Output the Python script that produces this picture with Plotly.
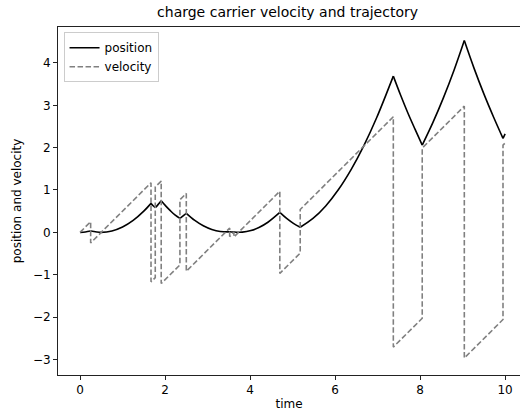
import plotly.graph_objects as go

# velocity: piecewise-linear vertices (time, value)
vel_t = [0, 0.25, 0.25, 1.67, 1.67, 1.77, 1.77, 1.91, 1.91, 2.35, 2.35, 2.50, 2.50,
         3.52, 3.52, 3.62, 3.62, 4.70, 4.70, 5.18, 5.18, 7.37, 7.37, 8.05, 8.05,
         9.04, 9.04, 9.95, 9.95, 10.0]
vel_v = [0, 0.25, -0.25, 1.17, -1.17, -1.07, 1.07, 1.21, -1.21, -0.77, 0.77, 0.92, -0.92,
         0.10, -0.10, 0.0, -0.11, 0.97, -0.97, -0.49, 0.54, 2.73, -2.71, -2.03, 1.99,
         2.98, -2.97, -2.06, 2.06, 2.11]

# position: smooth arcs between collisions (each arc listed separately)
pos_t = [
    [0, 0.125, 0.25],
    [0.25, 0.5, 0.75, 1.0, 1.25, 1.5, 1.67],
    [1.67, 1.72, 1.77],
    [1.77, 1.84, 1.91],
    [1.91, 2.02, 2.13, 2.24, 2.35],
    [2.35, 2.425, 2.50],
    [2.50, 2.7, 2.9, 3.1, 3.3, 3.52],
    [3.52, 3.57, 3.62],
    [3.62, 3.82, 4.02, 4.22, 4.42, 4.70],
    [4.70, 4.86, 5.02, 5.18],
    [5.18, 5.48, 5.78, 6.08, 6.38, 6.68, 6.98, 7.37],
    [7.37, 7.54, 7.71, 7.88, 8.05],
    [8.05, 8.30, 8.55, 8.80, 9.04],
    [9.04, 9.27, 9.50, 9.73, 9.95],
    [9.95, 9.975, 10.0],
]
pos_x = [
    [0, 0.008, 0.031],
    [0.031, 0.0, 0.031, 0.125, 0.281, 0.500, 0.684],
    [0.684, 0.627, 0.580],
    [0.580, 0.660, 0.745],
    [0.745, 0.618, 0.505, 0.405, 0.330],
    [0.330, 0.390, 0.450],
    [0.450, 0.282, 0.155, 0.068, 0.020, 0.012],
    [0.012, 0.008, 0.006],
    [0.006, 0.004, 0.042, 0.120, 0.238, 0.470],
    [0.470, 0.328, 0.211, 0.120],
    [0.120, 0.327, 0.624, 1.011, 1.488, 2.055, 2.712, 3.690],
    [3.690, 3.244, 2.826, 2.438, 2.060],
    [2.060, 2.590, 3.181, 3.835, 4.530],
    [4.530, 3.873, 3.270, 2.719, 2.220],
    [2.220, 2.272, 2.325],
]

px_t, px_x = [], []
for ts, xs in zip(pos_t, pos_x):
    px_t += ts + [None]
    px_x += xs + [None]

fig = go.Figure()
fig.add_trace(go.Scatter(x=px_t, y=px_x, mode="lines", name="position",
                         line=dict(color="black", width=1.6, shape="spline"),
                         connectgaps=False))
fig.add_trace(go.Scatter(x=vel_t, y=vel_v, mode="lines", name="velocity",
                         line=dict(color="#808080", width=1.6, dash="5.5px,2.5px")))

font = "DejaVu Sans, sans-serif"
fig.update_layout(
    width=520, height=417,
    margin=dict(l=58, r=0, t=27, b=42),
    paper_bgcolor="white", plot_bgcolor="white",
    font=dict(family=font, size=12, color="black"),
    title=dict(text="charge carrier velocity and trajectory", x=0.553, xanchor="center",
               y=0.97, yanchor="middle", font=dict(size=14, family=font)),
    showlegend=True,
    legend=dict(x=0.012, y=0.985, xanchor="left", yanchor="top",
                bgcolor="rgba(255,255,255,0.8)", bordercolor="#cccccc", borderwidth=1,
                font=dict(size=12, family=font), itemwidth=30, tracegroupgap=0),
    xaxis=dict(range=[-0.518, 10.35], tickvals=[0, 2, 4, 6, 8, 10],
               showgrid=False, zeroline=False, showline=True, mirror=True,
               linecolor="#222", linewidth=1, ticks="outside", ticklen=4,
               tickcolor="#222", title=dict(text="time", standoff=3,
                                            font=dict(size=12))),
    yaxis=dict(range=[-3.37, 4.85], tickvals=[-3, -2, -1, 0, 1, 2, 3, 4],
               showgrid=False, zeroline=False, showline=True, mirror=False,
               linecolor="#222", linewidth=1, ticks="outside", ticklen=4,
               tickcolor="#222", title=dict(text="position and velocity", standoff=8,
                                            font=dict(size=12))),
)

fig.write_html("out.html")
